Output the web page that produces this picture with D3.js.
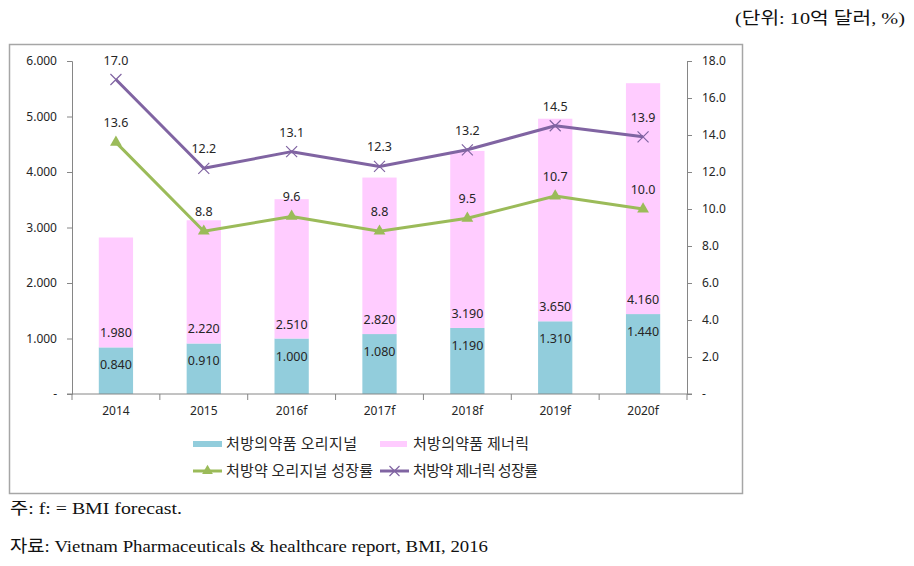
<!DOCTYPE html>
<html><head><meta charset="utf-8">
<script src="https://cdn.jsdelivr.net/npm/d3@7"></script>
<style>
body{margin:0;background:#fff;}
svg{display:block;}
.sans{font-family:"Noto Sans","Noto Sans CJK KR",sans-serif;}
.kr{font-family:"Noto Sans CJK KR",sans-serif;}
.serif{font-family:"Liberation Serif","Noto Sans CJK KR",serif;}
</style></head>
<body>
<svg id="c" width="914" height="566"></svg>
<script>
const years = ["2014","2015","2016f","2017f","2018f","2019f","2020f"];
const originalSales = [0.840,0.910,1.000,1.080,1.190,1.310,1.440];
const genericSales = [1.980,2.220,2.510,2.820,3.190,3.650,4.160];
const originalGrowth = [13.6,8.8,9.6,8.8,9.5,10.7,10.0];
const genericGrowth = [17.0,12.2,13.1,12.3,13.2,14.5,13.9];
const leftTicks = [0,1,2,3,4,5,6];
const rightTicks = [0,2,4,6,8,10,12,14,16,18];
const seriesNames = ["처방의약품 오리지널","처방의약품 제너릭","처방약 오리지널 성장률","처방약 제너릭 성장률"];
const unitText = "(단위: 10억 달러, %)";
const noteText = "주: f: = BMI forecast.";
const sourceText = "자료: Vietnam Pharmaceuticals & healthcare report, BMI, 2016";

const C = {blue:"#92CDDC", pink:"#FFCCFF", green:"#9BBB59", purple:"#8064A2", axis:"#868686", text:"#262626"};
const svg = d3.select("#c");

// outer frame
svg.append("rect").attr("x",9.5).attr("y",44.5).attr("width",733).attr("height",449)
  .attr("fill","#fff").attr("stroke","#a6a6a6").attr("stroke-width",1.5);

const L=72, R=687, T=61, B=394;
const x = d3.scaleBand().domain(years).range([L,R]).paddingInner(0.61).paddingOuter(0.305);
const yL = d3.scaleLinear().domain([0,6]).range([B,T]);
const yR = d3.scaleLinear().domain([0,18]).range([B,T]);
const cx = d => x(d)+x.bandwidth()/2;

// bars
const gB = svg.append("g");
gB.selectAll("rect.o").data(years).join("rect").attr("x",d=>x(d)).attr("width",x.bandwidth())
  .attr("y",(d,i)=>yL(originalSales[i])).attr("height",(d,i)=>B-yL(originalSales[i])).attr("fill",C.blue);
gB.selectAll("rect.g").data(years).join("rect").attr("x",d=>x(d)).attr("width",x.bandwidth())
  .attr("y",(d,i)=>yL(originalSales[i]+genericSales[i])).attr("height",(d,i)=>yL(originalSales[i])-yL(originalSales[i]+genericSales[i])).attr("fill",C.pink);

// axes
const fmtL = v => v===0 ? "-" : d3.format(".3f")(v);
const fmtR = v => v===0 ? "-" : d3.format(".1f")(v);
const axL = svg.append("g").attr("transform",`translate(${L},0)`).call(d3.axisLeft(yL).tickValues(leftTicks).tickFormat(fmtL).tickSizeOuter(0).tickSize(5).tickPadding(10));
const axR = svg.append("g").attr("transform",`translate(${R},0)`).call(d3.axisRight(yR).tickValues(rightTicks).tickFormat(fmtR).tickSizeOuter(0).tickSize(5).tickPadding(10));
const axX = svg.append("g").attr("transform",`translate(0,${B})`);
axX.append("line").attr("x1",L-5).attr("x2",R+5).attr("stroke",C.axis);
const bounds = d3.range(years.length+1).map(i => L + i*x.step());
axX.selectAll("line.t").data(bounds).join("line").attr("x1",d=>d).attr("x2",d=>d).attr("y1",0).attr("y2",6).attr("stroke",C.axis);
axX.selectAll("text").data(years).join("text").attr("x",d=>cx(d)).attr("y",21).attr("text-anchor","middle")
  .attr("class","sans").attr("font-size",12).attr("fill",C.text).text(d=>d);
[axL,axR].forEach(a=>{
  a.selectAll("path,line").attr("stroke",C.axis);
  a.selectAll("text").attr("class","sans").attr("font-size",12).attr("fill",C.text);
});

// bar labels
const gBL = svg.append("g").attr("class","sans").attr("font-size",12.5).attr("fill",C.text).attr("text-anchor","middle");
gBL.selectAll("text.o").data(years).join("text").attr("x",d=>cx(d)).attr("y",(d,i)=>yL(originalSales[i])+22)
  .text((d,i)=>d3.format(".3f")(originalSales[i]));
gBL.selectAll("text.g").data(years).join("text").attr("x",d=>cx(d)).attr("y",(d,i)=>yL(originalSales[i])-10)
  .text((d,i)=>d3.format(".3f")(genericSales[i]));

// lines
const line = d3.line().x((d,i)=>cx(years[i])).y(d=>yR(d));
svg.append("path").datum(genericGrowth).attr("d",line).attr("fill","none").attr("stroke",C.purple).attr("stroke-width",3).attr("stroke-linejoin","round");
svg.append("path").datum(originalGrowth).attr("d",line).attr("fill","none").attr("stroke",C.green).attr("stroke-width",3).attr("stroke-linejoin","round");
const cross = (gx,gy,s)=>`M${gx-s},${gy-s}L${gx+s},${gy+s}M${gx-s},${gy+s}L${gx+s},${gy-s}`;
svg.append("g").selectAll("path").data(genericGrowth).join("path")
  .attr("d",(d,i)=>cross(cx(years[i]),yR(d),5.5)).attr("stroke",C.purple).attr("stroke-width",1.2);
svg.append("g").selectAll("path").data(originalGrowth).join("path")
  .attr("transform",(d,i)=>`translate(${cx(years[i])},${yR(d)})`)
  .attr("d",d3.symbol(d3.symbolTriangle,60)).attr("fill",C.green);

const gLL = svg.append("g").attr("class","sans").attr("font-size",12.5).attr("fill",C.text).attr("text-anchor","middle");
gLL.selectAll("text.p").data(genericGrowth).join("text").attr("x",(d,i)=>cx(years[i])).attr("y",d=>yR(d)-15).text(d=>d3.format(".1f")(d));
gLL.selectAll("text.q").data(originalGrowth).join("text").attr("x",(d,i)=>cx(years[i])).attr("y",d=>yR(d)-15).text(d=>d3.format(".1f")(d));

// legend
const lg = svg.append("g").attr("class","kr").attr("font-size",15).attr("fill",C.text);
const lgPos = [[193,444],[380,444],[193,471],[380,471]];
const lgLen = [131,116,147,125];
lg.append("rect").attr("x",lgPos[0][0]).attr("y",lgPos[0][1]-3).attr("width",29).attr("height",6).attr("fill",C.blue);
lg.append("rect").attr("x",lgPos[1][0]).attr("y",lgPos[1][1]-3).attr("width",27).attr("height",6).attr("fill",C.pink);
lg.append("line").attr("x1",lgPos[2][0]).attr("x2",lgPos[2][0]+29).attr("y1",lgPos[2][1]).attr("y2",lgPos[2][1]).attr("stroke",C.green).attr("stroke-width",3);
lg.append("path").attr("transform",`translate(${lgPos[2][0]+14.5},${lgPos[2][1]})`).attr("d",d3.symbol(d3.symbolTriangle,50)).attr("fill",C.green);
lg.append("line").attr("x1",lgPos[3][0]).attr("x2",lgPos[3][0]+29).attr("y1",lgPos[3][1]).attr("y2",lgPos[3][1]).attr("stroke",C.purple).attr("stroke-width",3);
lg.append("path").attr("d",cross(lgPos[3][0]+14.5,lgPos[3][1],5)).attr("stroke",C.purple).attr("stroke-width",1.2);
lg.selectAll("text").data(seriesNames).join("text").attr("x",(d,i)=>lgPos[i][0]+33).attr("y",(d,i)=>lgPos[i][1]+5)
  .attr("textLength",(d,i)=>lgLen[i]).attr("lengthAdjust","spacing").text(d=>d);

// texts
svg.append("text").attr("class","serif").attr("x",735).attr("y",24).attr("font-size",17).attr("fill","#111")
  .attr("textLength",170).attr("lengthAdjust","spacingAndGlyphs").text(unitText);
svg.append("text").attr("class","serif").attr("x",10).attr("y",514).attr("font-size",17).attr("fill","#111")
  .attr("textLength",172).attr("lengthAdjust","spacingAndGlyphs").text(noteText);
svg.append("text").attr("class","serif").attr("x",10).attr("y",552).attr("font-size",17).attr("fill","#111")
  .attr("textLength",478).attr("lengthAdjust","spacingAndGlyphs").text(sourceText);
</script>
</body></html>
